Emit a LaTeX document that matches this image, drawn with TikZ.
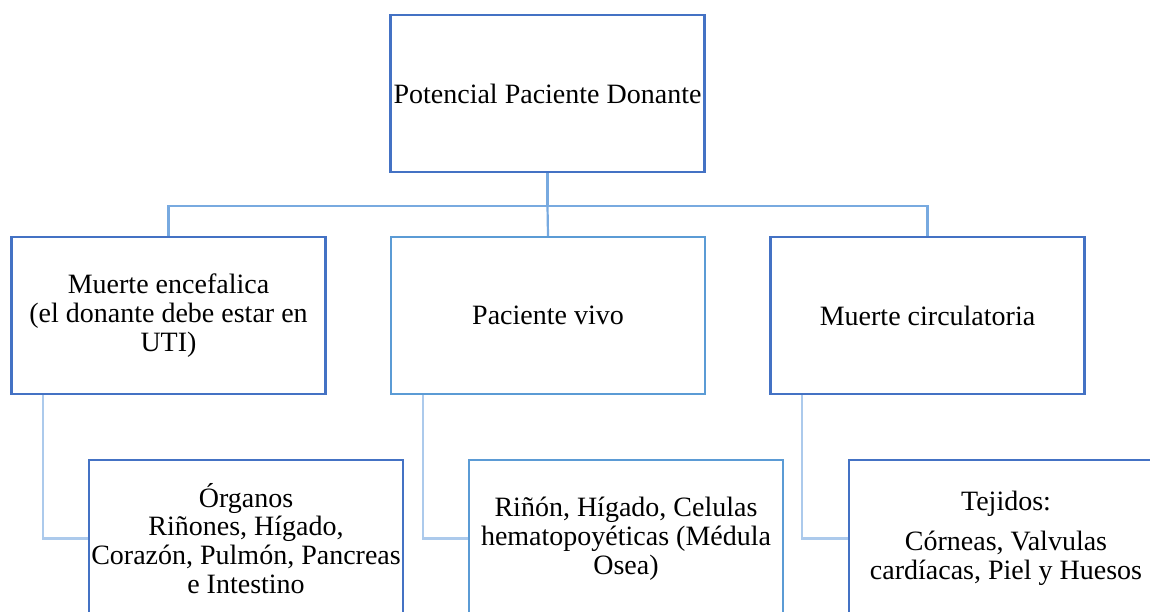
\documentclass[tikz,border=0pt]{standalone}
\usepackage{fontspec}
\setmainfont{Liberation Serif}
\newfontfamily\tnr{Liberation Serif}
\definecolor{bdark}{RGB}{68,114,196}
\definecolor{bmid}{RGB}{91,155,213}
\definecolor{cone}{RGB}{120,170,224}
\definecolor{ctwo}{RGB}{172,202,236}
\tikzset{
  box/.style={draw=bdark, line width=2.4pt, fill=white, minimum width=314pt, minimum height=157pt,
    inner sep=0pt, align=center, font=\tnr\fontsize{28}{28.8}\selectfont},
  boxmid/.style={box, draw=bmid},
  frame/.style={draw=bdark, line width=2.4pt, minimum width=314pt, minimum height=157pt, inner sep=0pt},
  framemid/.style={frame, draw=bmid},
  linkone/.style={draw=cone, line width=2.2pt},
  linktwo/.style={draw=ctwo, line width=2.2pt}
}
\begin{document}
\begin{tikzpicture}[x=1pt,y=-1pt]
\useasboundingbox (0,0) rectangle (1150,611);
\clip (0,0) rectangle (1150,611);
\fill[white] (0,0) rectangle (1150,611);
% nodes
\node[box] (top) at (547.5,93.5) {Potencial Paciente Donante};
\node[box] (l2a) at (168.5,315.5) {Muerte encefalica\\(el donante debe estar en\\UTI)};
\node[boxmid] (l2b) at (548,315.5) {Paciente vivo};
\node[box] (l2c) at (927.5,315.5) {Muerte circulatoria};
\node[box] (l3a) at (246,538.5) {Órganos\\Riñones, Hígado,\\Corazón, Pulmón, Pancreas\\e Intestino};
\node[boxmid] (l3b) at (626,538.5) {Riñón, Hígado, Celulas\\hematopoyéticas (Médula\\Osea)};
\node[box] (l3c) at (1006,538.5) {Tejidos:\\[11pt]Córneas, Valvulas\\cardíacas, Piel y Huesos};
% connectors
\draw[linkone] (top.south) -- ++(0,33) coordinate (bar);
\draw[linkone] (l2a.north) |- (bar) -| (l2c.north);
\draw[linkone] (bar) -- (l2b.north);
\draw[linktwo] ([xshift=-125.5pt]l2a.south) |- (l3a.west);
\draw[linktwo] ([xshift=-125pt]l2b.south) |- (l3b.west);
\draw[linktwo] ([xshift=-125.5pt]l2c.south) |- (l3c.west);
% box borders on top of connector ends
\node[frame] at (top) {};
\node[frame] at (l2a) {};
\node[framemid] at (l2b) {};
\node[frame] at (l2c) {};
\node[frame] at (l3a) {};
\node[framemid] at (l3b) {};
\node[frame] at (l3c) {};
\end{tikzpicture}
\end{document}
